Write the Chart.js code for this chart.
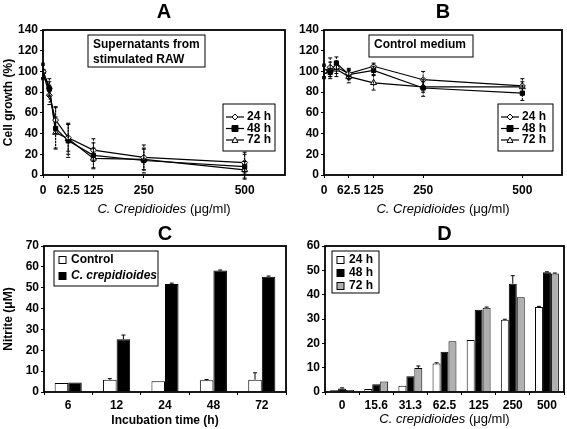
<!DOCTYPE html>
<html>
<head>
<meta charset="utf-8">
<script src="https://cdn.jsdelivr.net/npm/chart.js@4.4.1/dist/chart.umd.min.js"></script>
<style>
    body { margin: 0; background: #fff; }
    #wrap { position: relative; width: 567px; height: 429px; overflow: hidden; }
    #wrap canvas { position: absolute; }
</style>
</head>
<body>
<div id="wrap">
    <canvas id="chartC" width="290" height="214" style="left:0;top:215px"></canvas>
    <canvas id="chartD" width="280" height="214" style="left:287px;top:215px"></canvas>
    <canvas id="chartA" width="290" height="225" style="left:0;top:0"></canvas>
    <canvas id="chartB" width="280" height="225" style="left:287px;top:0"></canvas>
</div>
<script>
// concentrations (ug/ml) and time points
const concValues = [0, 15.6, 31.3, 62.5, 125, 250, 500];
const concTicks = [0, 62.5, 125, 250, 500];
const concLabels = ['0', '15.6', '31.3', '62.5', '125', '250', '500'];
const timeLabels = ['6', '12', '24', '48', '72'];
const seriesNames = ['24 h', '48 h', '72 h'];

// A - supernatants from stimulated RAW (cell growth %)
const growthA24 = [100, 77, 53, 36, 24, 17, 12];
const growthA48 = [100, 83, 45, 33, 19, 14, 8];
const growthA72 = [100, 85, 41, 35, 16, 15, 5];
const errA24 = [8, 9, 13, 13, 11, 12, 10];
const errA48 = [7, 7, 20, 16, 12, 12, 12];
const errA72 = [6, 8, 15, 15, 10, 10, 8];

// B - control medium (cell growth %)
const growthB24 = [100, 104, 104, 98, 105, 92, 86];
const growthB48 = [100, 99, 108, 97, 101, 84, 79];
const growthB72 = [100, 101, 102, 95, 89, 85, 85];
const errB24 = [7, 9, 6, 5, 3, 8, 7];
const errB48 = [5, 4, 6, 5, 4, 8, 7];
const errB72 = [6, 8, 7, 6, 7, 5, 5];

// C - nitrite vs incubation time (uM)
const nitriteControl = [4.3, 5.9, 5.1, 5.6, 5.9];
const nitriteCrep = [4.5, 25.3, 51.8, 58.2, 55.3];
const errControl = [0, 0.5, 0, 0.4, 3.3];
const errCrep = [0, 2, 0.4, 0.3, 0.3];

// D - nitrite vs concentration (uM)
const nitrite24 = [0.7, 1.2, 2.6, 11.7, 21.4, 29.7, 34.9];
const nitrite48 = [1.4, 3.2, 6.5, 16.5, 33.8, 44.5, 49.2];
const nitrite72 = [0.8, 4.3, 9.9, 20.9, 34.6, 38.9, 48.7];
const errD24 = [0, 0, 0, 0.3, 0, 0.2, 0.3];
const errD48 = [0.3, 0, 0, 0, 0, 3.3, 0.2];
const errD72 = [0, 0, 0.8, 0, 0.3, 0, 0.2];

Chart.defaults.font.family = '"Liberation Sans", Arial, sans-serif';
Chart.defaults.color = '#000';
Chart.defaults.animation = false;

const FONT = '"Liberation Sans", Arial, sans-serif';

// black box round the plot area
const frame = {
    id: 'frame',
    afterDatasetsDraw(chart) {
        const { ctx, chartArea: a } = chart;
        ctx.save();
        ctx.strokeStyle = '#000';
        ctx.lineWidth = 1.8;
        ctx.strokeRect(a.left, a.top, a.right - a.left, a.bottom - a.top);
        ctx.restore();
    }
};

// error bars read from dataset.errors
const errorBars = {
    id: 'errorBars',
    afterDatasetsDraw(chart) {
        const { ctx } = chart;
        const y = chart.scales.y;
        chart.data.datasets.forEach((ds, i) => {
            if (!ds.errors) return;
            const meta = chart.getDatasetMeta(i);
            ctx.save();
            ctx.strokeStyle = '#000';
            ctx.lineWidth = 1;
            meta.data.forEach((el, j) => {
                const err = ds.errors[j];
                if (!err) return;
                const raw = ds.data[j];
                const v = typeof raw === 'object' ? raw.y : raw;
                const top = y.getPixelForValue(v + err);
                const bot = ds.upperOnly ? el.y : y.getPixelForValue(v - err);
                ctx.setLineDash(ds.errorDash || []);
                ctx.beginPath();
                ctx.moveTo(el.x, top);
                ctx.lineTo(el.x, bot);
                ctx.stroke();
                ctx.setLineDash([]);
                ctx.beginPath();
                ctx.moveTo(el.x - 2, top);
                ctx.lineTo(el.x + 2, top);
                if (!ds.upperOnly) {
                    ctx.moveTo(el.x - 2, bot);
                    ctx.lineTo(el.x + 2, bot);
                }
                ctx.stroke();
            });
            ctx.restore();
        });
    }
};

function drawMarker(ctx, style, x, y, r, fill) {
    ctx.beginPath();
    if (style === 'rectRot') {
        ctx.moveTo(x, y - r); ctx.lineTo(x + r, y); ctx.lineTo(x, y + r); ctx.lineTo(x - r, y);
    } else if (style === 'triangle') {
        ctx.moveTo(x, y - r); ctx.lineTo(x + r, y + r * 0.8); ctx.lineTo(x - r, y + r * 0.8);
    } else {
        ctx.rect(x - r, y - r, 2 * r, 2 * r);
    }
    ctx.closePath();
    ctx.fillStyle = fill;
    ctx.fill();
    ctx.lineWidth = 1;
    ctx.strokeStyle = '#000';
    ctx.stroke();
}

// boxed legend inside the plot
const boxLegend = {
    id: 'boxLegend',
    afterDraw(chart, args, opts) {
        const { ctx, chartArea: a } = chart;
        const x0 = a.left + opts.left, y0 = a.top + opts.top;
        ctx.save();
        ctx.fillStyle = '#fff';
        ctx.fillRect(x0, y0, opts.width, opts.height);
        ctx.strokeStyle = '#000';
        ctx.lineWidth = 1;
        ctx.strokeRect(x0, y0, opts.width, opts.height);
        chart.data.datasets.forEach((ds, i) => {
            const cy = y0 + opts.first + i * opts.rowH;
            let tx;
            if (opts.kind === 'line') {
                ctx.beginPath();
                ctx.moveTo(x0 + 3, cy);
                ctx.lineTo(x0 + 3 + opts.sample, cy);
                ctx.lineWidth = 1.2;
                ctx.strokeStyle = '#000';
                ctx.stroke();
                drawMarker(ctx, ds.pointStyle, x0 + 3 + opts.sample / 2, cy, 3, ds.pointBackgroundColor);
                tx = x0 + opts.sample + 6;
            } else {
                ctx.fillStyle = ds.backgroundColor;
                ctx.fillRect(x0 + 5, cy - 3.5, 7, 7);
                ctx.strokeStyle = '#000';
                ctx.lineWidth = 1;
                ctx.strokeRect(x0 + 5, cy - 3.5, 7, 7);
                tx = x0 + 17;
            }
            const italic = opts.italic && opts.italic[i];
            ctx.font = (italic ? 'italic ' : '') + 'bold 12px ' + FONT;
            ctx.fillStyle = '#000';
            ctx.textBaseline = 'middle';
            ctx.textAlign = 'left';
            ctx.fillText(ds.label, tx, cy);
        });
        ctx.restore();
    }
};

// boxed note in the plot, and an x title mixing italic and plain text
const noteBox = {
    id: 'noteBox',
    afterDraw(chart, args, opts) {
        const { ctx, chartArea: a } = chart;
        ctx.save();
        if (opts.lines) {
            const x0 = a.left + opts.left, y0 = a.top + opts.top;
            ctx.fillStyle = '#fff';
            ctx.fillRect(x0, y0, opts.width, opts.height);
            ctx.strokeStyle = '#000';
            ctx.lineWidth = 1;
            ctx.strokeRect(x0, y0, opts.width, opts.height);
            ctx.font = 'bold 12px ' + FONT;
            ctx.fillStyle = '#000';
            ctx.textBaseline = 'middle';
            opts.lines.forEach((t, i) => ctx.fillText(t, x0 + 5, y0 + 10 + i * 15));
        }
        if (opts.xTitle) {
            const parts = opts.xTitle;
            const fonts = parts.map(p => (p.italic ? 'italic ' : '') + '13px ' + FONT);
            let total = 0;
            const widths = parts.map((p, i) => { ctx.font = fonts[i]; const w = ctx.measureText(p.text).width; total += w; return w; });
            let x = (a.left + a.right) / 2 - total / 2;
            const y = a.bottom + opts.xTitleOffset;
            ctx.fillStyle = '#000';
            ctx.textBaseline = 'middle';
            ctx.textAlign = 'left';
            parts.forEach((p, i) => { ctx.font = fonts[i]; ctx.fillText(p.text, x, y); x += widths[i]; });
        }
        ctx.restore();
    }
};

const concTitle = (name) => [{ text: 'C. ' + name, italic: true }, { text: ' (\u03bcg/ml)', italic: false }];

function lineSet(label, values, errors, style, fill) {
    return {
        label: label,
        data: concValues.map((c, i) => ({ x: c, y: values[i] })),
        errors: errors,
        errorDash: [2, 1],
        borderColor: '#000',
        borderWidth: 1.2,
        pointStyle: style,
        pointRadius: style === 'triangle' ? 3.5 : 3,
        pointBackgroundColor: fill,
        pointBorderColor: '#000',
        pointBorderWidth: 1,
        tension: 0
    };
}

function growthChart(id, sets, cfg) {
    return new Chart(document.getElementById(id), {
        type: 'line',
        data: { datasets: sets },
        options: {
            responsive: false,
            layout: { padding: { right: cfg.padRight, bottom: 10 } },
            plugins: {
                legend: { display: false },
                tooltip: { enabled: false },
                title: {
                    display: true, text: cfg.letter, fullSize: false,
                    font: { size: 20, weight: 'bold', lineHeight: 1.2 },
                    padding: { top: 0, bottom: 6 }
                },
                boxLegend: { kind: 'line', left: cfg.legLeft, top: 74, width: cfg.legWidth, height: 47, first: 13, rowH: 11.5, sample: 18 },
                noteBox: { left: 45, top: 5, width: cfg.noteWidth, height: cfg.noteHeight, lines: cfg.note, xTitle: concTitle('Crepidioides'), xTitleOffset: 34 }
            },
            scales: {
                x: {
                    type: 'linear', min: 0, max: 600,
                    afterBuildTicks: (s) => { s.ticks = concTicks.map(v => ({ value: v })); },
                    afterFit: (s) => { s.height = 40; },
                    grid: { drawOnChartArea: false, tickLength: 3, color: '#000' },
                    border: { display: false },
                    ticks: { font: { size: 12, weight: 'bold' }, padding: 5, maxRotation: 0, autoSkip: false }
                },
                y: {
                    min: 0, max: 140,
                    afterFit: (s) => { s.width = cfg.yWidth; },
                    grid: { drawOnChartArea: false, tickLength: 3, color: '#000' },
                    border: { display: false },
                    ticks: { stepSize: 20, font: { size: 12, weight: 'bold' }, padding: 2 },
                    title: { display: cfg.yTitle, text: 'Cell growth (%)', font: { size: 12, weight: 'bold' }, padding: { top: 1 } }
                }
            }
        },
        plugins: [frame, errorBars, boxLegend, noteBox]
    });
}

growthChart('chartA', [
    lineSet(seriesNames[0], growthA24, errA24, 'rectRot', '#fff'),
    lineSet(seriesNames[1], growthA48, errA48, 'rect', '#000'),
    lineSet(seriesNames[2], growthA72, errA72, 'triangle', '#fff')
], { letter: 'A', padRight: 4, yWidth: 43, yTitle: true, legLeft: 180, legWidth: 52, note: ['Supernatants from', 'stimulated RAW'], noteWidth: 117, noteHeight: 32 });

growthChart('chartB', [
    lineSet(seriesNames[0], growthB24, errB24, 'rectRot', '#fff'),
    lineSet(seriesNames[1], growthB48, errB48, 'rect', '#000'),
    lineSet(seriesNames[2], growthB72, errB72, 'triangle', '#fff')
], { letter: 'B', padRight: 2, yWidth: 37, yTitle: false, legLeft: 174, legWidth: 55, note: ['Control medium'], noteWidth: 104, noteHeight: 22 });

function barSet(label, values, errors, color) {
    return {
        label: label,
        data: values,
        errors: errors,
        upperOnly: true,
        backgroundColor: color,
        borderColor: '#000',
        borderWidth: 1,
        barPercentage: 1
    };
}

function nitriteChart(id, labels, sets, cfg) {
    sets.forEach(s => { s.categoryPercentage = cfg.catPct; });
    return new Chart(document.getElementById(id), {
        type: 'bar',
        data: { labels: labels, datasets: sets },
        options: {
            responsive: false,
            layout: { padding: { right: cfg.padRight } },
            plugins: {
                legend: { display: false },
                tooltip: { enabled: false },
                title: {
                    display: true, text: cfg.letter, fullSize: false,
                    font: { size: 20, weight: 'bold', lineHeight: 1.2 },
                    padding: { top: 7, bottom: 0 }
                },
                boxLegend: cfg.legend,
                noteBox: cfg.xTitle ? { xTitle: cfg.xTitle, xTitleOffset: 27 } : {}
            },
            scales: {
                x: {
                    afterFit: (s) => { s.height = 37; },
                    grid: { drawOnChartArea: false, offset: true, tickLength: 3, color: '#000' },
                    border: { display: false },
                    ticks: { font: { size: 12, weight: 'bold' }, padding: 3, maxRotation: 0, autoSkip: false },
                    title: { display: !!cfg.xName, text: cfg.xName, font: { size: 12, weight: 'bold' }, padding: { top: 0, bottom: 1 } }
                },
                y: {
                    min: 0, max: cfg.yMax,
                    afterFit: (s) => { s.width = cfg.yWidth; },
                    grid: { drawOnChartArea: false, tickLength: 3, color: '#000' },
                    border: { display: false },
                    ticks: { stepSize: 10, font: { size: 12, weight: 'bold' }, padding: 2 },
                    title: { display: cfg.yTitle, text: 'Nitrite (\u03bcM)', font: { size: 12, weight: 'bold' }, padding: { top: 1 } }
                }
            }
        },
        plugins: [errorBars, frame, boxLegend, noteBox]
    });
}

nitriteChart('chartC', timeLabels, [
    barSet('Control', nitriteControl, errControl, '#fff'),
    barSet('C. crepidioides', nitriteCrep, errCrep, '#000')
], {
    letter: 'C', padRight: 4, yWidth: 44, yMax: 70, yTitle: true, catPct: 0.56,
    xName: 'Incubation time (h)',
    legend: { kind: 'bar', left: 10, top: 5, width: 104, height: 35, first: 9, rowH: 16, italic: [false, true] }
});

nitriteChart('chartD', concLabels, [
    barSet(seriesNames[0], nitrite24, errD24, '#fff'),
    barSet(seriesNames[1], nitrite48, errD48, '#000'),
    barSet(seriesNames[2], nitrite72, errD72, '#b0b0b0')
], {
    letter: 'D', padRight: 3, yWidth: 38, yMax: 60, yTitle: false, catPct: 0.7,
    xTitle: concTitle('crepidioides'),
    legend: { kind: 'bar', left: 7, top: 5, width: 47, height: 42, first: 9, rowH: 13 }
});
</script>
</body>
</html>
